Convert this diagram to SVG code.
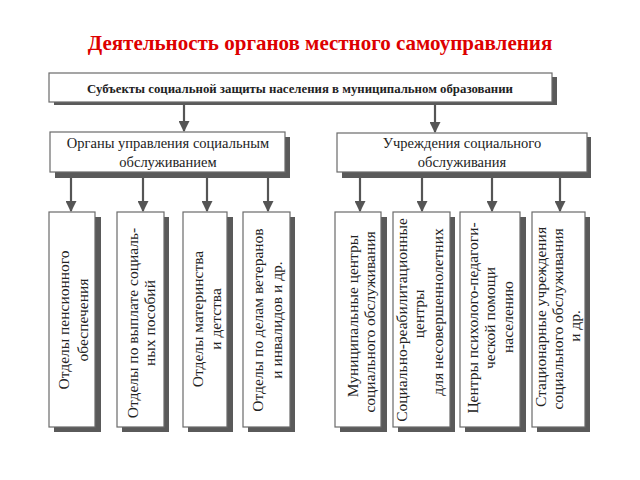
<svg xmlns="http://www.w3.org/2000/svg" width="640" height="480" viewBox="0 0 640 480">
<defs>
<style>
.sh{fill:#5a5a5a}
.bx{fill:#ffffff;stroke:#6a6a6a;stroke-width:1.2}
.t{font-family:"Liberation Serif","Times New Roman",serif;font-size:14.5px;fill:#222;text-anchor:middle}
.v{font-family:"Liberation Serif","Times New Roman",serif;font-size:15.5px;fill:#222;text-anchor:middle}
.tb{font-family:"Liberation Serif","Times New Roman",serif;font-size:12.8px;font-weight:bold;fill:#222;text-anchor:middle}
.ttl{font-family:"Liberation Serif","Times New Roman",serif;font-size:21px;font-weight:bold;fill:#dd0000;text-anchor:middle}
.ln{stroke:#555;stroke-width:2.2;fill:none}
</style>
<marker id="ah" viewBox="0 0 10 10" refX="9" refY="5" markerWidth="5" markerHeight="5" orient="auto" markerUnits="strokeWidth">
<path d="M0,0 L10,5 L0,10 z" fill="#555"/>
</marker>
</defs>
<rect width="640" height="480" fill="#ffffff"/>
<text class="ttl" x="320" y="50">Деятельность органов местного самоуправления</text>

<g id="connectors">
<line class="ln" x1="184" y1="104" x2="184" y2="131" marker-end="url(#ah)"/>
<line class="ln" x1="435" y1="104" x2="435" y2="132" marker-end="url(#ah)"/>
<line class="ln" x1="71" y1="177" x2="71" y2="211" marker-end="url(#ah)"/>
<line class="ln" x1="143" y1="177" x2="143" y2="211" marker-end="url(#ah)"/>
<line class="ln" x1="207" y1="177" x2="207" y2="211" marker-end="url(#ah)"/>
<line class="ln" x1="268" y1="177" x2="268" y2="211" marker-end="url(#ah)"/>
<line class="ln" x1="360" y1="177" x2="360" y2="211" marker-end="url(#ah)"/>
<line class="ln" x1="422" y1="177" x2="422" y2="211" marker-end="url(#ah)"/>
<line class="ln" x1="492" y1="177" x2="492" y2="211" marker-end="url(#ah)"/>
<line class="ln" x1="560" y1="177" x2="560" y2="211" marker-end="url(#ah)"/>
</g>

<g id="subjects">
<rect class="sh" x="54" y="77" width="503" height="28"/>
<rect class="bx" x="49" y="73" width="503" height="29"/>
<text class="tb" x="300" y="93">Субъекты социальной защиты населения в муниципальном образовании</text>
</g>

<g id="organs">
<rect class="sh" x="55" y="137" width="235" height="41"/>
<rect class="bx" x="50" y="132" width="235" height="40"/>
<text class="t" x="168" y="148">Органы управления социальным</text>
<text class="t" x="168" y="167">обслуживанием</text>
</g>

<g id="institutions">
<rect class="sh" x="342" y="137" width="249" height="41"/>
<rect class="bx" x="337" y="133" width="250" height="39"/>
<text class="t" x="462" y="148">Учреждения социального</text>
<text class="t" x="462" y="167">обслуживания</text>
</g>

<g id="pension">
<rect class="sh" x="54" y="217" width="47" height="215"/>
<rect class="bx" x="49" y="212" width="46" height="215"/>
<text class="v" transform="translate(69,320) rotate(-90)">Отделы пенсионного</text>
<text class="v" transform="translate(88,320) rotate(-90)">обеспечения</text>
</g>

<g id="benefits">
<rect class="sh" x="122" y="217" width="47" height="215"/>
<rect class="bx" x="117" y="212" width="47" height="215"/>
<text class="v" transform="translate(138,323) rotate(-90)">Отделы по выплате социаль-</text>
<text class="v" transform="translate(155,323) rotate(-90)">ных пособий</text>
</g>

<g id="maternity">
<rect class="sh" x="188" y="217" width="45" height="215"/>
<rect class="bx" x="183" y="212" width="44" height="215"/>
<text class="v" transform="translate(203,319) rotate(-90)">Отделы материнства</text>
<text class="v" transform="translate(221,319) rotate(-90)">и детства</text>
</g>

<g id="veterans">
<rect class="sh" x="248" y="217" width="47" height="215"/>
<rect class="bx" x="243" y="212" width="47" height="215"/>
<text class="v" transform="translate(263,320) rotate(-90)">Отделы по делам ветеранов</text>
<text class="v" transform="translate(282,320) rotate(-90)">и инвалидов и др.</text>
</g>

<g id="municipal-centers">
<rect class="sh" x="340" y="217" width="47" height="215"/>
<rect class="bx" x="335" y="212" width="46" height="215"/>
<text class="v" transform="translate(358,316) rotate(-90)">Муниципальные центры</text>
<text class="v" transform="translate(375,322) rotate(-90)">социального обслуживания</text>
</g>

<g id="rehab-centers">
<rect class="sh" x="398" y="217" width="57" height="215"/>
<rect class="bx" x="393" y="212" width="57" height="215"/>
<text class="v" transform="translate(407,320) rotate(-90)">Социально-реабилитационные</text>
<text class="v" transform="translate(424,314) rotate(-90)">центры</text>
<text class="v" transform="translate(443,312) rotate(-90)">для несовершеннолетних</text>
</g>

<g id="psych-centers">
<rect class="sh" x="465" y="217" width="61" height="215"/>
<rect class="bx" x="460" y="212" width="60" height="215"/>
<text class="v" transform="translate(478,318) rotate(-90)">Центры психолого-педагоги-</text>
<text class="v" transform="translate(495,318) rotate(-90)">ческой помощи</text>
<text class="v" transform="translate(513,317) rotate(-90)">населению</text>
</g>

<g id="stationary">
<rect class="sh" x="537" y="217" width="53" height="215"/>
<rect class="bx" x="532" y="212" width="53" height="215"/>
<text class="v" transform="translate(546,317) rotate(-90)">Стационарные учреждения</text>
<text class="v" transform="translate(563,319) rotate(-90)">социального обслуживания</text>
<text class="v" transform="translate(580,326) rotate(-90)">и др.</text>
</g>
</svg>
